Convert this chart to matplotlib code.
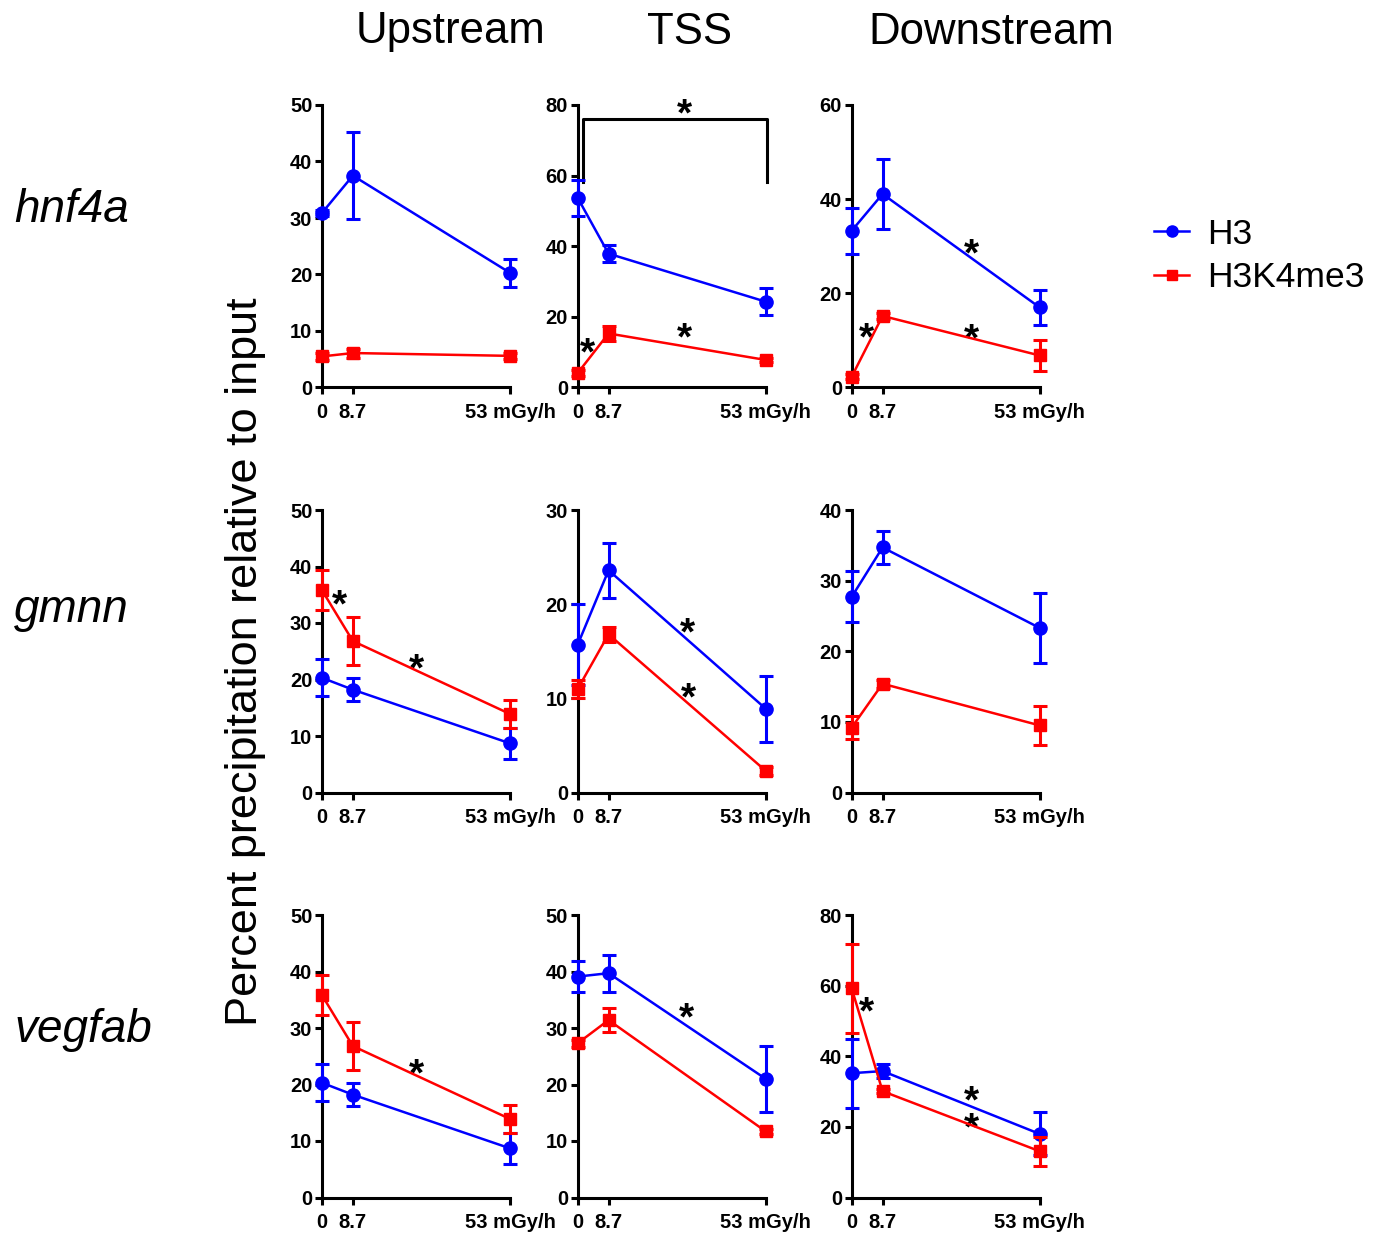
import matplotlib
matplotlib.use("Agg")
import matplotlib.pyplot as plt
from matplotlib.lines import Line2D
import numpy as np

plt.rcParams['font.family'] = ['Liberation Sans', 'DejaVu Sans']

# dose rates (mGy/h)
doses = [0, 8.7, 53]
dose_labels = ['0', '8.7', '53 mGy/h']

genes = ['hnf4a', 'gmnn', 'vegfab']
regions = ['Upstream', 'TSS', 'Downstream']

# H3 means / sem, rows = genes, cols = regions
h3_mean = [
    [[30.9, 37.5, 20.3], [53.7, 37.9, 24.3], [33.3, 41.1, 17.0]],
    [[20.3, 18.2, 8.7], [15.7, 23.6, 8.9], [27.7, 34.7, 23.3]],
    [[20.3, 18.2, 8.7], [39.1, 39.7, 21.0], [35.2, 35.8, 18.0]],
]
h3_err = [
    [[0.5, 7.7, 2.5], [5.0, 2.4, 3.9], [4.9, 7.4, 3.7]],
    [[3.3, 2.0, 2.7], [4.3, 2.9, 3.5], [3.6, 2.3, 5.0]],
    [[3.3, 2.0, 2.7], [2.8, 3.3, 5.9], [9.8, 2.1, 6.1]],
]
# H3K4me3 means / sem
k4_mean = [
    [[5.5, 6.1, 5.6], [4.1, 15.3, 7.8], [2.3, 15.2, 6.8]],
    [[35.8, 26.8, 13.9], [11.0, 16.8, 2.3], [9.2, 15.4, 9.5]],
    [[35.8, 26.8, 13.9], [27.3, 31.4, 11.7], [59.2, 30.1, 13.1]],
]
k4_err = [
    [[0.6, 0.8, 0.5], [0.8, 2.0, 0.6], [0.5, 0.6, 3.3]],
    [[3.5, 4.2, 2.4], [1.0, 0.8, 0.4], [1.6, 0.6, 2.75]],
    [[3.5, 4.2, 2.4], [0.6, 2.1, 0.5], [12.7, 0.6, 4.1]],
]

# y-axis max and step per panel
y_max = [[50, 80, 60], [50, 30, 40], [50, 50, 80]]
y_step = [[10, 20, 20], [10, 10, 10], [10, 10, 20]]

# significance stars (x, y in data units) per panel
stars = [
    [[], [(30, 80.5), (2.7, 12.8), (30, 17.0)], [(33.9, 30.6), (4.2, 12.7), (33.9, 12.5)]],
    [[(5.0, 35.0), (26.6, 23.8)], [(31.0, 18.1), (31.3, 11.2)], []],
    [[(26.6, 23.7)], [(30.8, 33.7)], [(4.2, 55.5), (33.9, 30.5), (33.9, 22.7)]],
]

BLUE = '#0000ff'
RED = '#ff0000'

W, H = 1376, 1234
fig = plt.figure(figsize=(W / 100, H / 100), dpi=100)

col_left = [322, 577.7, 851.7]
row_top = [105, 510, 915]
ax_w, ax_h = 188, 282.5

for r in range(3):
    for c in range(3):
        ax = fig.add_axes([col_left[c] / W, 1 - (row_top[r] + ax_h) / H, ax_w / W, ax_h / H])
        ax.errorbar(doses, h3_mean[r][c], yerr=h3_err[r][c], color=BLUE, marker='o',
                    markersize=9.5, linewidth=1.8, elinewidth=2.2, capsize=5, capthick=2.2,
                    clip_on=False, zorder=3)
        ax.errorbar(doses, k4_mean[r][c], yerr=k4_err[r][c], color=RED, marker='s',
                    markersize=9, linewidth=1.8, elinewidth=2.2, capsize=5, capthick=2.2,
                    clip_on=False, zorder=4)
        ax.set_xlim(0, 53)
        ax.set_ylim(0, y_max[r][c])
        ax.set_xticks(doses)
        ax.set_xticklabels(dose_labels)
        ax.set_yticks(np.arange(0, y_max[r][c] + 1, y_step[r][c]))
        for side in ['top', 'right']:
            ax.spines[side].set_visible(False)
        for side in ['left', 'bottom']:
            ax.spines[side].set_linewidth(2.2)
        ax.tick_params(width=2.2, length=5, labelsize=14.5)
        ax.tick_params(axis='x', pad=6)
        ax.tick_params(axis='y', pad=2)
        for lab in ax.get_xticklabels() + ax.get_yticklabels():
            lab.set_fontweight('bold')
        ax.patch.set_visible(False)

        for sx, sy in stars[r][c]:
            ax.annotate('*', xy=(sx, sy), xytext=(0, -16), textcoords='offset points',
                        ha='center', va='baseline', fontsize=28, fontweight='bold',
                        annotation_clip=False)

        if r == 0 and c == 1:
            # bracket between 0 and 53
            ax.plot([1.5, 1.5, 53.3, 53.3], [58.2, 76, 76, 58.2], color='black',
                    linewidth=2.2, clip_on=False, zorder=2)

# column titles
title_x = [450, 690, 991]
for tx, name in zip(title_x, regions):
    fig.text(tx / W, 1 - 32 / H, name, ha='center', va='center', fontsize=31.5)

# gene labels
gene_y = [210, 610, 1030]
for g, gy in zip(genes, gene_y):
    fig.text(14 / W, 1 - gy / H, g, ha='left', va='center', fontsize=33, style='italic')

fig.text(246 / W, 1 - 662 / H, 'Percent precipitation relative to input', rotation=90,
         ha='center', va='center', fontsize=32.5)

handles = [
    Line2D([], [], color=BLUE, marker='o', markersize=8, linewidth=1.8),
    Line2D([], [], color=RED, marker='s', markersize=7.5, linewidth=1.8),
]
fig.legend(handles, ['H3', 'H3K4me3'], loc='center left',
           bbox_to_anchor=(1122 / W, 1 - 256 / H), frameon=False, fontsize=25.5,
           handlelength=1.0, handletextpad=0.5, labelspacing=0.3)

fig.savefig('out.png', dpi=100)
